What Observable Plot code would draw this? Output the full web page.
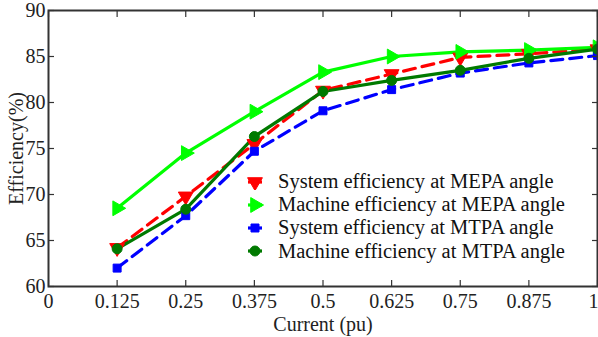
<!DOCTYPE html>
<html>
<head>
<meta charset="utf-8">
<script src="https://cdn.jsdelivr.net/npm/d3@7"></script>
<script src="https://cdn.jsdelivr.net/npm/@observablehq/plot@0.6"></script>
<style>
  body { margin: 0; background: #fff; }
  #wrap { position: relative; width: 598px; height: 337px; font-family: "Liberation Serif", "Times New Roman", serif; }
  #legend { position: absolute; left: 244px; top: 170px; font-size: 20.5px; color: #111; line-height: 23.2px; }
  #legend div { display: flex; align-items: center; white-space: nowrap; }
  #legend svg { margin-right: 8px; }
</style>
</head>
<body>
<div id="wrap"><div id="chart"></div><div id="legend"></div></div>
<script>
// Current levels (pu)
const current = [0.125, 0.25, 0.375, 0.5, 0.625, 0.75, 0.875, 1];
// Efficiency (%) for each operating mode
const sysMEPA  = [64.2, 69.8, 75.5, 81.3, 83.1, 84.9, 85.3, 85.8];
const machMEPA = [68.5, 74.5, 79.0, 83.3, 85.0, 85.5, 85.7, 86.0];
const sysMTPA  = [62.0, 67.7, 74.7, 79.1, 81.4, 83.2, 84.3, 85.1];
const machMTPA = [64.1, 68.4, 76.3, 81.2, 82.4, 83.5, 84.8, 85.8];

const xTicks = [0, 0.125, 0.25, 0.375, 0.5, 0.625, 0.75, 0.875, 1];
const xTickLabels = ["0", "0.125", "0.25", "0.375", "0.5", "0.625", "0.75", "0.875", "1"];
const yTicks = [60, 65, 70, 75, 80, 85, 90];

const series = [
  {name: "System efficiency at MEPA angle",  values: sysMEPA,  color: "#ff0000", dash: "12,7", symbol: "triangle", rotate: 180, r: 5.5},
  {name: "Machine efficiency at MEPA angle", values: machMEPA, color: "#00ff00", dash: null,   symbol: "triangle", rotate: 90,  r: 5.5},
  {name: "System efficiency at MTPA angle",  values: sysMTPA,  color: "#0000ff", dash: "12,7", symbol: "square",   rotate: 0,   r: 4.5},
  {name: "Machine efficiency at MTPA angle", values: machMTPA, color: "#007a00", dash: null,   symbol: "circle",   rotate: 0,   r: 5}
];

const rows = series.map(s => current.map((c, i) => ({x: c, y: s.values[i]})));

const marks = [];
series.forEach((s, k) => {
  marks.push(Plot.line(rows[k], {x: "x", y: "y", stroke: s.color, strokeWidth: 3.2, strokeDasharray: s.dash}));
});
series.forEach((s, k) => {
  marks.push(Plot.dot(rows[k], {x: "x", y: "y", symbol: s.symbol, r: s.r, fill: s.color, stroke: s.color, strokeWidth: 1, rotate: s.rotate}));
});

const axisStyle = {stroke: "#333", strokeWidth: 1.2};
const tickFont = {fontSize: 20, fill: "#222"};
marks.push(
  // inward ticks on all four sides
  Plot.axisX(xTicks, {anchor: "bottom", tickSize: -6, text: null, ...axisStyle}),
  Plot.axisX(xTicks, {anchor: "top", tickSize: -6, text: null, ...axisStyle}),
  Plot.axisY(yTicks, {anchor: "left", tickSize: -6, text: null, ...axisStyle}),
  Plot.axisY(yTicks, {anchor: "right", tickSize: -6, text: null, ...axisStyle}),
  Plot.axisX(xTicks.slice(0, -1), {anchor: "bottom", tickSize: 0, tickPadding: 7, tickFormat: (d, i) => xTickLabels[i], ...tickFont, label: null}),
  // last label kept inside the right edge
  Plot.axisX(xTicks.slice(-1), {anchor: "bottom", tickSize: 0, tickPadding: 7, tickFormat: () => xTickLabels[xTickLabels.length - 1], textAnchor: "end", dx: 1, ...tickFont, label: null}),
  Plot.axisY(yTicks, {anchor: "left", tickSize: 0, tickPadding: 3, ...tickFont, label: "Efficiency(%)", labelAnchor: "center", labelOffset: 40, labelArrow: "none"}),
  Plot.frame({stroke: "#333", strokeWidth: 2})
);

const chart = Plot.plot({
  width: 598,
  height: 337,
  marginLeft: 48,
  marginRight: 1,
  marginTop: 10,
  marginBottom: 51,
  style: {fontFamily: "'Liberation Serif', 'Times New Roman', serif", background: "#fff", overflow: "visible"},
  x: {domain: [0, 1], label: null},
  y: {domain: [60, 90], label: null},
  marks: [
    ...marks,
    Plot.text(["Current (pu)"], {frameAnchor: "bottom", textAnchor: "middle", lineAnchor: "bottom", dy: 44, fontSize: 20, fill: "#222"})
  ]
});
document.getElementById("chart").appendChild(chart);

// legend with marker swatches
const legend = d3.select("#legend");
series.forEach(s => {
  const row = legend.append("div");
  const svg = row.append("svg").attr("width", 26).attr("height", 16);
  svg.append("line").attr("x1", 4).attr("x2", 18).attr("y1", 8).attr("y2", 8)
    .attr("stroke", s.color).attr("stroke-width", 3.2);
  const sym = s.symbol === "triangle" ? d3.symbolTriangle : s.symbol === "square" ? d3.symbolSquare : d3.symbolCircle;
  svg.append("path").attr("d", d3.symbol(sym, Math.PI * s.r * s.r)())
    .attr("transform", `translate(11,8) rotate(${s.rotate})`)
    .attr("fill", s.color).attr("stroke", s.color);
  row.append("span").text(s.name);
});
</script>
</body>
</html>
